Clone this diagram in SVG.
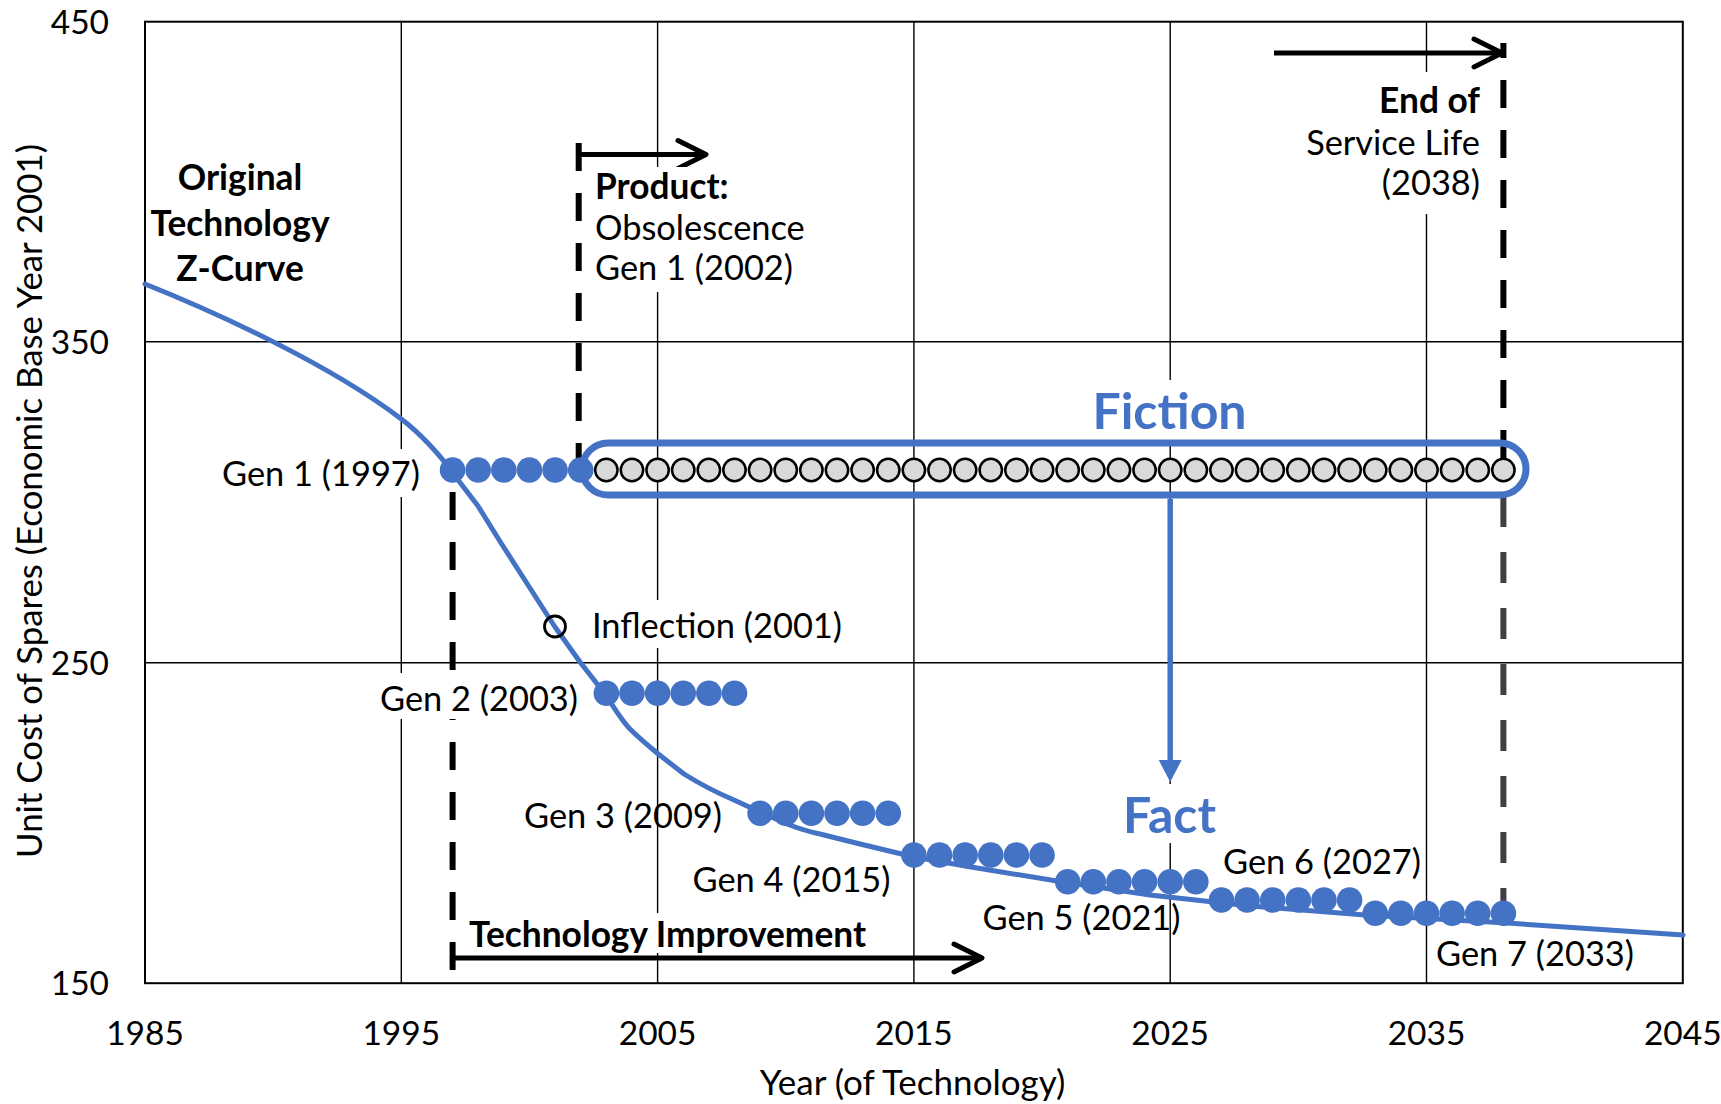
<svg xmlns="http://www.w3.org/2000/svg" width="1721" height="1104" viewBox="0 0 1721 1104">
<defs>
<style>
.t{font-family:Lato,"Open Sans","Liberation Sans",sans-serif;font-size:34.4px;fill:#000}
.tk{font-size:33.5px}
.b{font-weight:bold;font-size:35.3px}
.big{font-family:Lato,"Open Sans","Liberation Sans",sans-serif;font-size:50px;font-weight:bold;fill:#4472C4}
.grid{stroke:#000;stroke-width:1.4;fill:none}
.bg{fill:#fff}
.dash{stroke:#000;stroke-width:6;stroke-dasharray:28 22;fill:none}
.arr{stroke:#000;stroke-width:5;fill:none;marker-end:url(#open)}
.fd{fill:#4472C4}
.hd{fill:#D9D9D9;stroke:#000;stroke-width:2.5}
</style>
<marker id="open" markerUnits="userSpaceOnUse" markerWidth="40" markerHeight="40" refX="30" refY="14" orient="auto" overflow="visible">
<path d="M2,0 L30,14 L2,28" fill="none" stroke="#000" stroke-width="5" stroke-linejoin="round" stroke-linecap="round"/>
</marker>
<marker id="tri" markerUnits="userSpaceOnUse" markerWidth="30" markerHeight="30" refX="2" refY="11.5" orient="auto" overflow="visible">
<path d="M0,0 L22,11.5 L0,23 Z" fill="#4472C4"/>
</marker>
</defs>
<rect width="1721" height="1104" fill="#fff"/>

<g id="grid">
<line class="grid" x1="401.3" y1="21.7" x2="401.3" y2="983.2"/>
<line class="grid" x1="657.6" y1="21.7" x2="657.6" y2="983.2"/>
<line class="grid" x1="913.9" y1="21.7" x2="913.9" y2="983.2"/>
<line class="grid" x1="1170.2" y1="21.7" x2="1170.2" y2="983.2"/>
<line class="grid" x1="1426.5" y1="21.7" x2="1426.5" y2="983.2"/>
<line class="grid" x1="145" y1="341.7" x2="1682.8" y2="341.7"/>
<line class="grid" x1="145" y1="662.7" x2="1682.8" y2="662.7"/>
<rect x="145" y="21.7" width="1537.8" height="961.5" fill="none" stroke="#000" stroke-width="2"/>
</g>

<g id="axes">
<text class="t tk" x="109" y="33.5" text-anchor="end">450</text>
<text class="t tk" x="109" y="353.5" text-anchor="end">350</text>
<text class="t tk" x="109" y="674.5" text-anchor="end">250</text>
<text class="t tk" x="109" y="995" text-anchor="end">150</text>
<text class="t tk" x="145" y="1045" text-anchor="middle">1985</text>
<text class="t tk" x="401.3" y="1045" text-anchor="middle">1995</text>
<text class="t tk" x="657.6" y="1045" text-anchor="middle">2005</text>
<text class="t tk" x="913.9" y="1045" text-anchor="middle">2015</text>
<text class="t tk" x="1170.2" y="1045" text-anchor="middle">2025</text>
<text class="t tk" x="1426.5" y="1045" text-anchor="middle">2035</text>
<text class="t tk" x="1682.8" y="1045" text-anchor="middle">2045</text>
<text class="t" x="912.6" y="1095" text-anchor="middle" style="font-size:35px">Year (of Technology)</text>
<text class="t" transform="translate(42,501) rotate(-90)" text-anchor="middle" style="font-size:34.8px">Unit Cost of Spares (Economic Base Year 2001)</text>
</g>

<g id="connectors">
<line class="dash" x1="578.7" y1="143" x2="578.7" y2="470"/>
<line class="dash" x1="452.6" y1="970" x2="452.6" y2="470"/>
<line class="dash" x1="1503.4" y1="43" x2="1503.4" y2="458" stroke-dashoffset="13"/>
<line class="dash" x1="1503.4" y1="496" x2="1503.4" y2="905" style="stroke:#404040;stroke-dasharray:31 25"/>
<line class="arr" x1="578.7" y1="154.5" x2="706" y2="154.5"/>
<line class="arr" x1="452.6" y1="958" x2="982" y2="958"/>
<line class="arr" x1="1274" y1="53" x2="1502" y2="53"/>
<line x1="1170.2" y1="499" x2="1170.2" y2="762" stroke="#4472C4" stroke-width="5.5" marker-end="url(#tri)"/>
</g>

<g id="label-original">
<text class="t b" x="240" y="190" text-anchor="middle">Original</text>
<text class="t b" x="240" y="235.5" text-anchor="middle">Technology</text>
<text class="t b" x="240" y="280.5" text-anchor="middle">Z-Curve</text>
</g>

<g id="label-product">
<rect class="bg" x="588" y="167" width="225" height="125"/>
<text class="t b" x="595" y="198.5">Product:</text>
<text class="t" x="595" y="240">Obsolescence</text>
<text class="t" x="595" y="280">Gen 1 (2002)</text>
</g>

<g id="label-end">
<rect class="bg" x="1296" y="72" width="189" height="142"/>
<text class="t b" x="1480" y="113" text-anchor="end">End of</text>
<text class="t" x="1480" y="154.5" text-anchor="end">Service Life</text>
<text class="t" x="1480" y="194.5" text-anchor="end">(2038)</text>
</g>

<g id="label-tech">
<rect class="bg" x="465" y="913" width="410" height="40"/>
<text class="t b" x="469" y="946.5">Technology Improvement</text>
</g>

<g id="label-fiction">
<rect class="bg" x="1085" y="380" width="170" height="60"/>
<text class="big" x="1169.5" y="428.5" text-anchor="middle">Fiction</text>
</g>

<g id="label-fact">
<rect class="bg" x="1110" y="784" width="120" height="59"/>
<text class="big" x="1169.5" y="832.5" text-anchor="middle">Fact</text>
</g>

<g id="label-gen1">
<rect class="bg" x="220" y="449" width="204" height="48"/>
<text class="t" x="420" y="485.5" text-anchor="end">Gen 1 (1997)</text>
</g>
<g id="label-gen2">
<rect class="bg" x="377" y="673" width="205" height="46"/>
<text class="t" x="578" y="710.5" text-anchor="end">Gen 2 (2003)</text>
</g>
<g id="label-inflection">
<rect class="bg" x="588" y="600" width="262" height="48"/>
<text class="t" x="592" y="638">Inflection (2001)</text>
</g>
<g id="label-gen3"><text class="t" x="722" y="827.5" text-anchor="end">Gen 3 (2009)</text></g>
<g id="label-gen4"><text class="t" x="692.5" y="891.5">Gen 4 (2015)</text></g>
<g id="label-gen5"><text class="t" x="982.5" y="929.5">Gen 5 (2021)</text></g>
<g id="label-gen6"><text class="t" x="1223" y="874">Gen 6 (2027)</text></g>
<g id="label-gen7"><text class="t" x="1436" y="965.5">Gen 7 (2033)</text></g>

<g id="z-curve">
<path fill="none" stroke="#4472C4" stroke-width="5" stroke-linejoin="round" stroke-linecap="round" d="M145,284 C220,314 330,365 400,418 C420,433 440,455 452,472 L478,506 L501,543 L528,585 L555,627 L580,662 L605,694 C615,709 622,721 630,729 C640,739 650,747 657,753 L684,774 C700,784 715,792 734,800 L760,812 L787,824 C800,829 810,832 820,834 L856,843 L914,857 L971,867 L1063,882 L1150,895 L1250,906 L1365,915 L1507,923 L1683,935"/>
</g>

<g id="inflection-point">
<circle cx="555" cy="626.5" r="10.5" fill="none" stroke="#000" stroke-width="2.8"/>
</g>

<g id="gen1-dots">
<circle class="fd" cx="452.56" cy="470" r="12.8"/>
<circle class="fd" cx="478.19" cy="470" r="12.8"/>
<circle class="fd" cx="503.82" cy="470" r="12.8"/>
<circle class="fd" cx="529.45" cy="470" r="12.8"/>
<circle class="fd" cx="555.08" cy="470" r="12.8"/>
<circle class="fd" cx="580.71" cy="470" r="12.8"/>
</g>

<g id="fiction-dots">
<circle class="hd" cx="606.34" cy="470" r="11.2"/>
<circle class="hd" cx="631.97" cy="470" r="11.2"/>
<circle class="hd" cx="657.6" cy="470" r="11.2"/>
<circle class="hd" cx="683.23" cy="470" r="11.2"/>
<circle class="hd" cx="708.86" cy="470" r="11.2"/>
<circle class="hd" cx="734.49" cy="470" r="11.2"/>
<circle class="hd" cx="760.12" cy="470" r="11.2"/>
<circle class="hd" cx="785.75" cy="470" r="11.2"/>
<circle class="hd" cx="811.38" cy="470" r="11.2"/>
<circle class="hd" cx="837.01" cy="470" r="11.2"/>
<circle class="hd" cx="862.64" cy="470" r="11.2"/>
<circle class="hd" cx="888.27" cy="470" r="11.2"/>
<circle class="hd" cx="913.9" cy="470" r="11.2"/>
<circle class="hd" cx="939.53" cy="470" r="11.2"/>
<circle class="hd" cx="965.16" cy="470" r="11.2"/>
<circle class="hd" cx="990.79" cy="470" r="11.2"/>
<circle class="hd" cx="1016.42" cy="470" r="11.2"/>
<circle class="hd" cx="1042.05" cy="470" r="11.2"/>
<circle class="hd" cx="1067.68" cy="470" r="11.2"/>
<circle class="hd" cx="1093.31" cy="470" r="11.2"/>
<circle class="hd" cx="1118.94" cy="470" r="11.2"/>
<circle class="hd" cx="1144.57" cy="470" r="11.2"/>
<circle class="hd" cx="1170.2" cy="470" r="11.2"/>
<circle class="hd" cx="1195.83" cy="470" r="11.2"/>
<circle class="hd" cx="1221.46" cy="470" r="11.2"/>
<circle class="hd" cx="1247.09" cy="470" r="11.2"/>
<circle class="hd" cx="1272.72" cy="470" r="11.2"/>
<circle class="hd" cx="1298.35" cy="470" r="11.2"/>
<circle class="hd" cx="1323.98" cy="470" r="11.2"/>
<circle class="hd" cx="1349.61" cy="470" r="11.2"/>
<circle class="hd" cx="1375.24" cy="470" r="11.2"/>
<circle class="hd" cx="1400.87" cy="470" r="11.2"/>
<circle class="hd" cx="1426.5" cy="470" r="11.2"/>
<circle class="hd" cx="1452.13" cy="470" r="11.2"/>
<circle class="hd" cx="1477.76" cy="470" r="11.2"/>
<circle class="hd" cx="1503.39" cy="470" r="11.2"/>
</g>

<g id="fiction-oval">
<rect x="582" y="443" width="944" height="52" rx="26" ry="26" fill="none" stroke="#4472C4" stroke-width="7"/>
</g>

<g id="gen2-dots">
<circle class="fd" cx="606.34" cy="693.3" r="12.8"/>
<circle class="fd" cx="631.97" cy="693.3" r="12.8"/>
<circle class="fd" cx="657.6" cy="693.3" r="12.8"/>
<circle class="fd" cx="683.23" cy="693.3" r="12.8"/>
<circle class="fd" cx="708.86" cy="693.3" r="12.8"/>
<circle class="fd" cx="734.49" cy="693.3" r="12.8"/>
</g>
<g id="gen3-dots">
<circle class="fd" cx="760.12" cy="813.3" r="12.8"/>
<circle class="fd" cx="785.75" cy="813.3" r="12.8"/>
<circle class="fd" cx="811.38" cy="813.3" r="12.8"/>
<circle class="fd" cx="837.01" cy="813.3" r="12.8"/>
<circle class="fd" cx="862.64" cy="813.3" r="12.8"/>
<circle class="fd" cx="888.27" cy="813.3" r="12.8"/>
</g>
<g id="gen4-dots">
<circle class="fd" cx="913.9" cy="855" r="12.8"/>
<circle class="fd" cx="939.53" cy="855" r="12.8"/>
<circle class="fd" cx="965.16" cy="855" r="12.8"/>
<circle class="fd" cx="990.79" cy="855" r="12.8"/>
<circle class="fd" cx="1016.42" cy="855" r="12.8"/>
<circle class="fd" cx="1042.05" cy="855" r="12.8"/>
</g>
<g id="gen5-dots">
<circle class="fd" cx="1067.68" cy="881.7" r="12.8"/>
<circle class="fd" cx="1093.31" cy="881.7" r="12.8"/>
<circle class="fd" cx="1118.94" cy="881.7" r="12.8"/>
<circle class="fd" cx="1144.57" cy="881.7" r="12.8"/>
<circle class="fd" cx="1170.2" cy="881.7" r="12.8"/>
<circle class="fd" cx="1195.83" cy="881.7" r="12.8"/>
</g>
<g id="gen6-dots">
<circle class="fd" cx="1221.46" cy="900" r="12.8"/>
<circle class="fd" cx="1247.09" cy="900" r="12.8"/>
<circle class="fd" cx="1272.72" cy="900" r="12.8"/>
<circle class="fd" cx="1298.35" cy="900" r="12.8"/>
<circle class="fd" cx="1323.98" cy="900" r="12.8"/>
<circle class="fd" cx="1349.61" cy="900" r="12.8"/>
</g>
<g id="gen7-dots">
<circle class="fd" cx="1375.24" cy="913.3" r="12.8"/>
<circle class="fd" cx="1400.87" cy="913.3" r="12.8"/>
<circle class="fd" cx="1426.5" cy="913.3" r="12.8"/>
<circle class="fd" cx="1452.13" cy="913.3" r="12.8"/>
<circle class="fd" cx="1477.76" cy="913.3" r="12.8"/>
<circle class="fd" cx="1503.39" cy="913.3" r="12.8"/>
</g>
</svg>
